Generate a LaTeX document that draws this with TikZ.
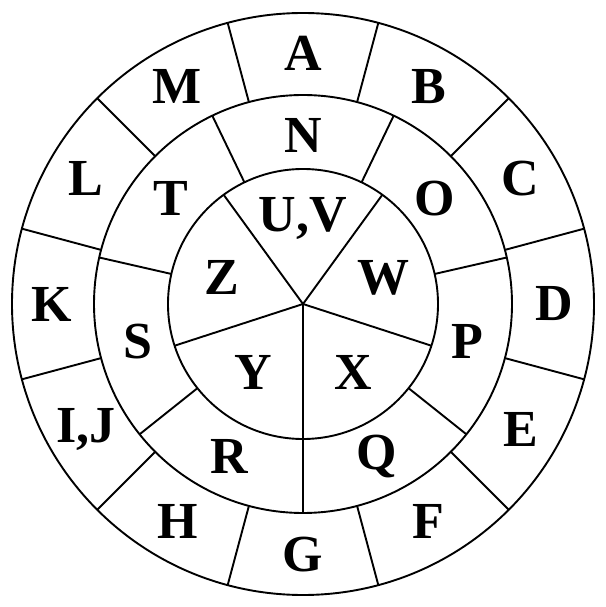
\documentclass[tikz,border=0pt]{standalone}
\usepackage{fontspec}
\newfontfamily\wheelfont{Liberation Serif}
\usetikzlibrary{calc}

\tikzset{
    ring/.style={line width=1.9pt, black},
    letter/.style={font=\wheelfont\fontsize{52}{56}\selectfont\bfseries, inner sep=0pt}
}

\begin{document}
\begin{tikzpicture}[x=1pt, y=1pt]
\useasboundingbox (-303,-303) rectangle (302,304);

\def\rin{135}
\def\rmid{209}
\def\rout{291}

\coordinate (O) at (0,0);

% Circles
\draw[ring] (O) circle (\rin pt);
\draw[ring] (O) circle (\rmid pt);
\draw[ring] (O) circle (\rout pt);

% Inner spokes, five sectors
\foreach \a in {54,126,198,270,342}
    \draw[ring] (O) -- (\a:\rin pt);

% Middle spokes, seven sectors
\foreach \k in {0,...,6}
    \draw[ring] ({270+\k*360/7}:\rin pt) -- ({270+\k*360/7}:\rmid pt);

% Outer spokes, twelve sectors
\foreach \a in {15,45,...,345}
    \draw[ring] (\a:\rmid pt) -- (\a:\rout pt);

% Outer letters
\foreach \txt/\a [count=\i] in {A/90, B/60, C/30, D/0, E/-30, F/-60, G/-90,
        H/-120, {I,J}/-150, K/180, L/150, M/120}
    \node[letter] (out\i) at (\a:251pt) {\txt};

% Middle letters
\foreach \txt/\a [count=\i] in {N/90, O/38.6, P/-12.9, Q/-64.3, R/-115.7,
        S/-167.1, T/141.4}
    \node[letter] (mid\i) at (\a:169pt) {\txt};

% Inner letters
\foreach \txt/\a [count=\i] in {{U,V}/90, W/18, X/-54, Y/-126, Z/162}
    \node[letter] (in\i) at (\a:85pt) {\txt};
\end{tikzpicture}
\end{document}
